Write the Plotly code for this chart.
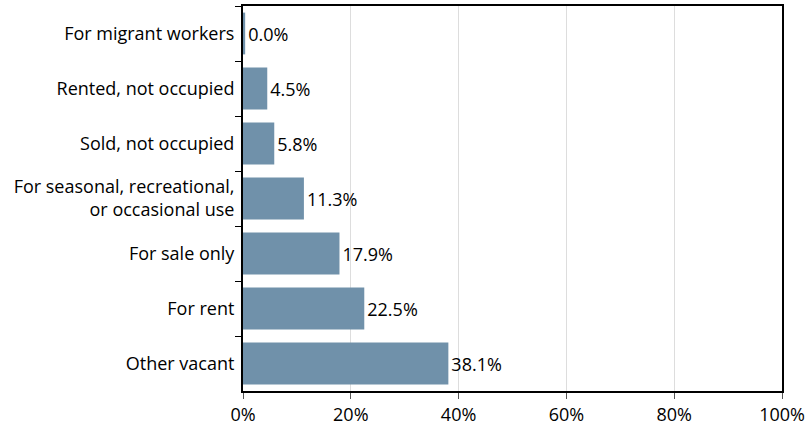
import plotly.graph_objects as go

categories = [
    "For migrant workers",
    "Rented, not occupied",
    "Sold, not occupied",
    "For seasonal, recreational,<br>or occasional use",
    "For sale only",
    "For rent",
    "Other vacant",
]
values = [0.4, 4.5, 5.8, 11.3, 17.9, 22.5, 38.1]
value_labels = ["0.0%", "4.5%", "5.8%", "11.3%", "17.9%", "22.5%", "38.1%"]
x_tickvals = [0, 20, 40, 60, 80, 100]
x_ticktext = ["0%", "20%", "40%", "60%", "80%", "100%"]

FONT = "Open Sans, Noto Sans, sans-serif"
FS = 18

fig = go.Figure(
    go.Bar(
        x=values,
        y=categories,
        orientation="h",
        marker=dict(color="#7091aa", line=dict(width=0)),
        width=0.76,
        text=value_labels,
        textposition="outside",
        cliponaxis=False,
        textfont=dict(family=FONT, size=FS, color="#000"),
        hoverinfo="skip",
    )
)

fig.update_layout(
    width=809,
    height=432,
    margin=dict(l=243, r=27, t=6, b=41),
    paper_bgcolor="white",
    plot_bgcolor="white",
    showlegend=False,
    font=dict(family=FONT, size=FS, color="#000"),
    xaxis=dict(
        range=[0, 100],
        tickvals=x_tickvals,
        ticktext=x_ticktext,
        automargin=False,
        showgrid=True,
        gridcolor="#dddddd",
        gridwidth=1,
        showline=True,
        linecolor="#000",
        linewidth=2,
        mirror=True,
        ticks="outside",
        ticklen=6,
        tickcolor="#555",
        tickwidth=1,
        zeroline=False,
        tickfont=dict(family=FONT, size=FS, color="#000"),
        fixedrange=True,
    ),
    yaxis=dict(
        autorange="reversed",
        automargin=False,
        showgrid=False,
        showline=True,
        linecolor="#000",
        linewidth=2,
        mirror=True,
        ticks="outside",
        tickson="boundaries",
        ticklen=6,
        tickcolor="#000",
        tickwidth=1,
        ticklabelstandoff=3,
        tickfont=dict(family=FONT, size=FS, color="#000"),
        fixedrange=True,
    ),
)

fig.write_html(
    "out.html",
    config={"displayModeBar": False},
    post_script="document.body.style.margin='0';document.body.style.overflow='hidden';",
)
